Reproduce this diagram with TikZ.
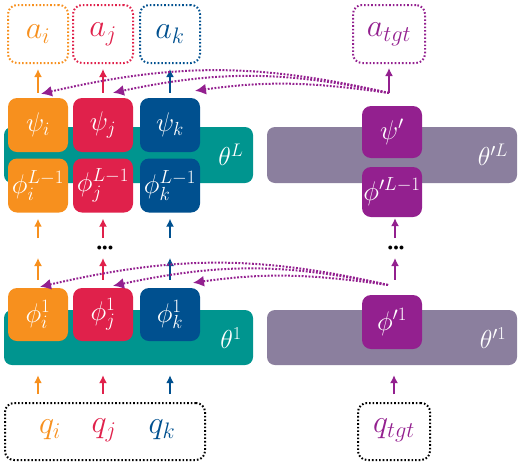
\RequirePackage{fix-cm}
\documentclass[tikz,border=0pt]{standalone}
\usetikzlibrary{arrows.meta}
\definecolor{orangeC}{HTML}{F7901E}
\definecolor{redC}{HTML}{E0214B}
\definecolor{blueC}{HTML}{00508F}
\definecolor{purpC}{HTML}{93208F}
\definecolor{tealC}{HTML}{00958F}
\definecolor{greyC}{HTML}{8B7F9E}
\tikzset{
  cell/.style={rounded corners=9pt, minimum width=60pt, minimum height=54pt, text=white, inner sep=0pt, font=\fontsize{27}{31}\selectfont},
  outbox/.style={draw, rounded corners=9pt, line width=2pt, dash pattern=on 1.6pt off 2pt, line cap=butt, minimum width=60pt, minimum height=58pt, inner sep=0pt},
  band/.style={rounded corners=8pt, minimum width=249pt, minimum height=56pt, inner sep=0pt},
  bandlabel/.style={text=white, inner sep=0pt, font=\fontsize{26}{30}\selectfont},
  biglabel/.style={inner sep=0pt, font=\fontsize{32}{36}\selectfont},
  uparrow/.style={-{Latex[length=8pt,width=8pt]}, line width=1.6pt},
  link/.style={purpC, line width=2pt, dash pattern=on 1.8pt off 1.6pt, -{Latex[length=11pt,width=11pt]}},
  dotsnode/.style={inner sep=0pt, font=\fontsize{10}{12}\selectfont},
}
\begin{document}
\begin{tikzpicture}[x=1pt,y=1pt]
\useasboundingbox (0,0) rectangle (521,-469);

% ---------- output boxes ----------
\node[outbox, draw=orangeC, text=orangeC, font=\fontsize{32}{36}\selectfont] (ai) at (38,-34) {$a_i$};
\node[outbox, draw=redC, text=redC, font=\fontsize{32}{36}\selectfont] (aj) at (103,-34) {$a_j$};
\node[outbox, draw=blueC, text=blueC, font=\fontsize{32}{36}\selectfont] (ak) at (170,-34) {$a_k$};
\node[outbox, draw=purpC, text=purpC, minimum width=72pt, font=\fontsize{32}{36}\selectfont] (at) at (389,-34) {$a_{tgt}$};

% ---------- layer L ----------
\node[band, fill=tealC] (bandL) at (128.5,-155) {};
\node[band, fill=greyC, minimum width=250pt] (gbandL) at (392,-155) {};
\node[bandlabel] (thL) at (231,-155) {$\theta^{L}$};
\node[bandlabel] (gthL) at (493,-155) {$\theta'^{L}$};

\node[cell, fill=orangeC] (psii) at (38,-125) {$\psi_i$};
\node[cell, fill=redC] (psij) at (103,-125) {$\psi_j$};
\node[cell, fill=blueC] (psik) at (170,-125) {$\psi_k$};
\node[cell, fill=purpC, minimum height=52pt] (psit) at (392,-132) {$\psi'$};

\node[cell, fill=orangeC] (phiLi) at (38,-185.5) {$\phi_i^{L-1}$};
\node[cell, fill=redC] (phiLj) at (103,-185.5) {$\phi_j^{L-1}$};
\node[cell, fill=blueC] (phiLk) at (170,-185.5) {$\phi_k^{L-1}$};
\node[cell, fill=purpC, minimum height=50pt] (phiLt) at (392,-192) {$\phi'^{L-1}$};

% ---------- layer 1 ----------
\node[band, fill=tealC, minimum height=55pt] (band1) at (128.5,-337.5) {};
\node[band, fill=greyC, minimum width=250pt, minimum height=55pt] (gband1) at (392,-337.5) {};
\node[bandlabel] (th1) at (231,-338) {$\theta^{1}$};
\node[bandlabel] (gth1) at (493,-338) {$\theta'^{1}$};

\node[cell, fill=orangeC, minimum height=53pt] (phi1i) at (38,-314.5) {$\phi_i^{1}$};
\node[cell, fill=redC, minimum height=53pt] (phi1j) at (103,-314.5) {$\phi_j^{1}$};
\node[cell, fill=blueC, minimum height=53pt] (phi1k) at (170,-314.5) {$\phi_k^{1}$};
\node[cell, fill=purpC] (phi1t) at (392,-322) {$\phi'^{1}$};

% ---------- inputs ----------
\node[outbox, draw=black, minimum width=200pt, minimum height=57pt] (qbox) at (105,-431.5) {};
\node[outbox, draw=black, minimum width=72pt, minimum height=57pt] (qtbox) at (394,-431.5) {};
\node[biglabel, text=orangeC] (qi) at (50,-430) {$q_i$};
\node[biglabel, text=redC] (qj) at (104,-430) {$q_j$};
\node[biglabel, text=blueC] (qk) at (162,-430) {$q_k$};
\node[biglabel, text=purpC] (qt) at (394,-430) {$q_{tgt}$};

% ---------- dots ----------
\node[dotsnode] (dotsL) at (105,-248) {$\bullet\mkern-3mu\bullet\mkern-3mu\bullet$};
\node[dotsnode] (dotsR) at (396,-248) {$\bullet\mkern-3mu\bullet\mkern-3mu\bullet$};

% ---------- helper coordinates ----------
\coordinate (loi) at (38,-258);  \coordinate (hii) at (38,-238);
\coordinate (loj) at (103,-258); \coordinate (hij) at (103,-238);
\coordinate (lok) at (170,-258); \coordinate (hik) at (170,-238);
\coordinate (lot) at (395,-258); \coordinate (hit) at (395,-238);
\coordinate (srcU) at (389,-93);
\coordinate (srcD) at (388,-285);

% ---------- vertical arrows ----------
% top
\draw[uparrow, orangeC, line width=2pt] ([yshift=5pt]psii.north) -- ([yshift=-5pt]ai.south);
\draw[uparrow, redC, line width=1.3pt] ([yshift=5pt]psij.north) -- ([yshift=-5pt]aj.south);
\draw[uparrow, blueC, line width=1.8pt] ([yshift=5pt]psik.north) -- ([yshift=-5pt]ak.south);
\draw[uparrow, purpC, line width=1.8pt] (srcU) -- ([yshift=-4pt]at.south);
% middle upper
\draw[uparrow, orangeC, line width=2pt] (hii) -- ([yshift=-6pt]phiLi.south);
\draw[uparrow, redC, line width=1.3pt] (hij) -- ([yshift=-6pt]phiLj.south);
\draw[uparrow, blueC, line width=1.3pt] (hik) -- ([yshift=-6pt]phiLk.south);
\draw[uparrow, purpC, line width=1.3pt] (hit) -- ([xshift=3pt,yshift=-1pt]phiLt.south);
% middle lower
\draw[uparrow, orangeC, line width=1.3pt] ([yshift=8pt]phi1i.north) -- (loi);
\draw[uparrow, redC, line width=1.8pt] ([yshift=8pt]phi1j.north) -- (loj);
\draw[uparrow, blueC, line width=1.3pt] ([yshift=8pt]phi1k.north) -- (lok);
\draw[uparrow, purpC, line width=1.8pt] ([xshift=3pt,yshift=15pt]phi1t.north) -- (lot);
% bottom
\draw[uparrow, orangeC, line width=2pt] ([xshift=-67pt,yshift=8pt]qbox.north) -- ([xshift=-90.5pt,yshift=-10pt]band1.south);
\draw[uparrow, redC, line width=1.3pt] ([xshift=-2pt,yshift=8pt]qbox.north) -- ([xshift=-25.5pt,yshift=-10pt]band1.south);
\draw[uparrow, blueC, line width=1.8pt] ([xshift=65pt,yshift=8pt]qbox.north) -- ([xshift=41.5pt,yshift=-10pt]band1.south);
\draw[uparrow, purpC, line width=1.3pt] ([yshift=8pt]qtbox.north) -- ([xshift=2pt,yshift=-10pt]gband1.south);

% ---------- purple dotted links ----------
\draw[link] (srcU) to[out=167,in=13] ([shift={(3pt,4pt)}]psii.north);
\draw[link] (srcU) to[out=168,in=12] ([shift={(10pt,5pt)}]psij.north);
\draw[link] (srcU) to[out=172,in=8] ([shift={(25pt,7pt)}]psik.north);
\draw[link] (srcD) to[out=167,in=13] ([shift={(2pt,1pt)}]phi1i.north);
\draw[link] (srcD) to[out=168,in=12] ([shift={(10pt,2pt)}]phi1j.north);
\draw[link] (srcD) to[out=172,in=8] ([shift={(23pt,5pt)}]phi1k.north);
\end{tikzpicture}
\end{document}
